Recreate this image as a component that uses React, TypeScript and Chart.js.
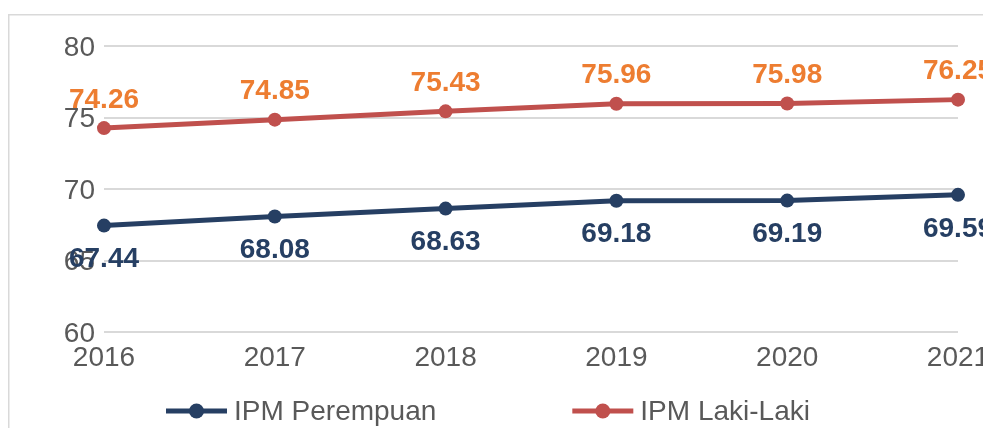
import React, { useEffect, useRef } from "react";
import { Chart, registerables } from "chart.js";

Chart.register(...registerables);

const years = ["2016", "2017", "2018", "2019", "2020", "2021"];
const ipmPerempuan = [67.44, 68.08, 68.63, 69.18, 69.19, 69.59];
const ipmLakiLaki = [74.26, 74.85, 75.43, 75.96, 75.98, 76.25];
const seriesNames = ["IPM Perempuan", "IPM Laki-Laki"];
const yMin = 60;
const yMax = 80;
const yStep = 5;

const FONT = "'Liberation Sans', Arial, sans-serif";
const COL_F = "#263F63";
const COL_M = "#C0504D";
const COL_LABEL_M = "#ED7D31";
const COL_TEXT = "#595959";
const COL_GRID = "#D9D9D9";

const decorPlugin = {
  id: "decor",
  beforeDraw(chart: any) {
    const ctx = chart.ctx;
    ctx.save();
    ctx.strokeStyle = COL_GRID;
    ctx.lineWidth = 1.5;
    ctx.beginPath();
    ctx.moveTo(0.75, chart.height);
    ctx.lineTo(0.75, 6.75);
    ctx.lineTo(chart.width, 6.75);
    ctx.stroke();
    ctx.restore();
  },
  afterDraw(chart: any) {
    const ctx = chart.ctx;
    ctx.save();
    // data labels
    ctx.font = `bold 28px ${FONT}`;
    ctx.textAlign = "center";
    ctx.textBaseline = "middle";
    chart.data.datasets.forEach((ds: any, i: number) => {
      const meta = chart.getDatasetMeta(i);
      meta.data.forEach((pt: any, j: number) => {
        const v = ds.data[j];
        const txt = v.toFixed(2);
        ctx.fillStyle = i === 0 ? COL_F : COL_LABEL_M;
        const dy = i === 0 ? 34 : -28;
        ctx.fillText(txt, pt.x, pt.y + dy);
      });
    });
    // legend
    const ly = 403;
    let x = 158;
    const gap = 136;
    chart.data.datasets.forEach((ds: any) => {
      const col = ds.borderColor;
      ctx.strokeStyle = col;
      ctx.lineWidth = 5;
      ctx.beginPath();
      ctx.moveTo(x, ly);
      ctx.lineTo(x + 61, ly);
      ctx.stroke();
      ctx.fillStyle = col;
      ctx.beginPath();
      ctx.arc(x + 30.5, ly, 7.5, 0, Math.PI * 2);
      ctx.fill();
      ctx.font = `28px ${FONT}`;
      ctx.fillStyle = COL_TEXT;
      ctx.textAlign = "left";
      ctx.textBaseline = "middle";
      const label = ds.label;
      ctx.fillText(label, x + 68, ly + 1);
      x += 68 + ctx.measureText(label).width + gap;
    });
    ctx.restore();
  },
};

export default function App() {
  const ref = useRef<HTMLCanvasElement | null>(null);
  useEffect(() => {
    if (!ref.current) return;
    document.documentElement.style.overflow = "hidden";
    const chart = new Chart(ref.current, {
      type: "line",
      data: {
        labels: years,
        datasets: [
          {
            label: seriesNames[0],
            data: ipmPerempuan,
            borderColor: COL_F,
            backgroundColor: COL_F,
            borderWidth: 5,
            pointRadius: 7,
            pointBorderWidth: 0,
            pointBackgroundColor: COL_F,
            tension: 0,
          },
          {
            label: seriesNames[1],
            data: ipmLakiLaki,
            borderColor: COL_M,
            backgroundColor: COL_M,
            borderWidth: 5,
            pointRadius: 7,
            pointBorderWidth: 0,
            pointBackgroundColor: COL_M,
            tension: 0,
          },
        ],
      },
      options: {
        responsive: false,
        animation: false,
        devicePixelRatio: 1,
        layout: { padding: { left: 0, top: 38, right: 33, bottom: 36 } },
        plugins: {
          legend: { display: false },
          tooltip: { enabled: false },
        },
        scales: {
          x: {
            offset: false,
            grid: { display: false, drawTicks: false },
            border: { display: false },
            ticks: {
              color: COL_TEXT,
              font: { family: FONT, size: 28 },
              padding: 9,
              autoSkip: false,
              maxRotation: 0,
            },
            afterFit(scale: any) {
              scale.height = 60;
              scale.paddingLeft = 0;
              scale.paddingRight = 0;
            },
          },
          y: {
            min: yMin,
            max: yMax,
            grid: { color: COL_GRID, lineWidth: 2, drawTicks: false },
            border: { display: false },
            ticks: {
              stepSize: yStep,
              color: COL_TEXT,
              font: { family: FONT, size: 28 },
              padding: 9,
              labelOffset: 2,
            },
            afterFit(scale: any) {
              scale.width = 96;
              scale.paddingTop = 0;
              scale.paddingBottom = 0;
            },
          },
        },
      },
      plugins: [decorPlugin],
    });
    return () => chart.destroy();
  }, []);
  return <canvas ref={ref} width={983} height={420} style={{ display: "block" }} />;
}
